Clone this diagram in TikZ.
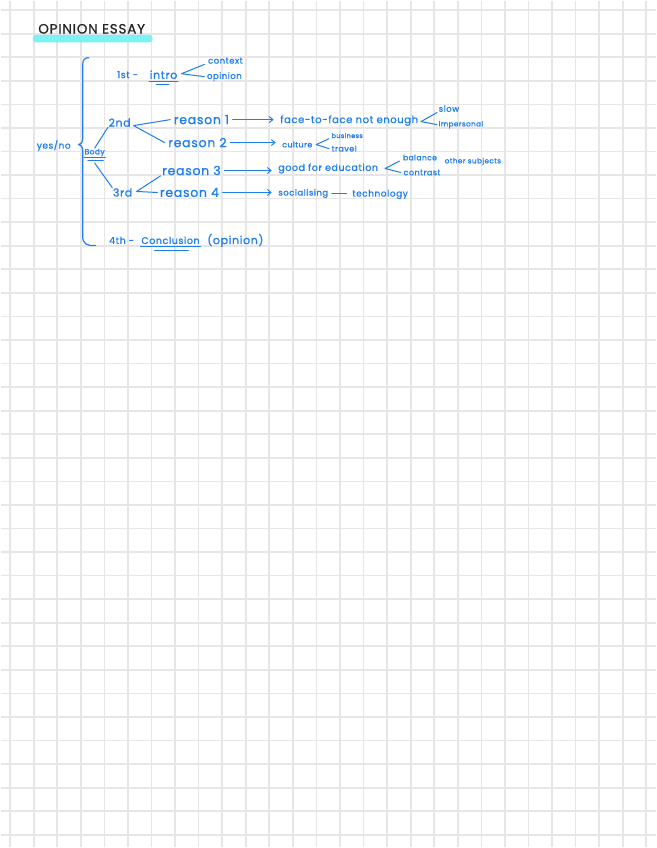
\documentclass[tikz,border=0pt]{standalone}
\usepackage{fontspec}
\setmainfont{Poppins}
\newfontfamily\hand[LetterSpace=6,FakeBold=1]{Poppins}
\usetikzlibrary{arrows.meta,positioning,calc}
\definecolor{ink}{HTML}{1E7DF0}
\definecolor{gridline}{HTML}{E6E6E6}
\definecolor{marker}{HTML}{7DF2F2}

\begin{document}
\begin{tikzpicture}[
  x=1pt, y=-1pt,
  big/.style={text=ink, inner sep=0.5pt, font=\hand\fontsize{12.5}{13}\selectfont},
  mid/.style={text=ink, inner sep=0.5pt, font=\hand\fontsize{9.5}{10}\selectfont},
  sml/.style={text=ink, inner sep=0.5pt, font=\hand\fontsize{8.5}{9}\selectfont},
  tiny/.style={text=ink, inner sep=0.5pt, font=\hand\fontsize{7.2}{8}\selectfont},
  edge/.style={draw=ink, line width=1pt, line cap=round, line join=round},
  arr/.style={edge, -{Straight Barb[length=3.5pt,width=6pt]}, shorten <=3pt, shorten >=6pt}
]
\fill[white] (0,0) rectangle (656,848);
\foreach \k in {0,...,27}
  \draw[gridline, line width=1.7pt] ({9.3+23.61*\k},0) -- ({9.3+23.61*\k},848);
\foreach \k in {0,...,35}
  \draw[gridline, line width=1.7pt] (0,{9.3+23.61*\k}) -- (656,{9.3+23.61*\k});
\useasboundingbox (0,0) rectangle (656,848);

\fill[marker, rounded corners=3pt] (32,34) rectangle (152,41.5);
\node[text=black!85, inner sep=0pt, font=\hand\fontsize{13.5}{14}\selectfont] (title) at (91,28) {OPINION ESSAY};

\draw[edge, line width=1.2pt] (88,57) .. controls (84,57) and (82,59) .. (82,64) -- (82,138)
  .. controls (82,142) and (80,144) .. (78,144) .. controls (80,144) and (82,146) .. (82,150)
  -- (82,236) .. controls (82,243) and (86,246) .. (95,245);

\node[mid, font=\hand\fontsize{9}{10}\selectfont] (yesno) at (53,145) {yes/no};

\node[mid] (first) at (127,74) {1st -};
\node[mid, font=\hand\fontsize{11}{12}\selectfont] (intro) at (163,74) {intro};
\draw[edge] ([yshift=-1.5pt]intro.south west) -- ([yshift=-1.5pt]intro.south east);
\draw[edge] ([xshift=7pt,yshift=-4.5pt]intro.south west) -- ([xshift=-9pt,yshift=-4.5pt]intro.south east);
\node[sml] (context) at (225,60) {context};
\node[sml] (opinion) at (224,76) {opinion};
\coordinate (introfork) at (181,73);
\draw[edge] ([xshift=-3pt]context.south west) -- (introfork) -- ([xshift=-2pt]opinion.west);

\node[mid, font=\hand\fontsize{7.5}{8}\selectfont] (body) at (94,152) {Body};
\draw[edge] ([yshift=-1pt]body.south west) -- ([yshift=-1pt]body.south east);
\draw[edge] ([xshift=4pt,yshift=-4pt]body.south west) -- ([xshift=-2pt,yshift=-4pt]body.south east);

\node[big, font=\hand\fontsize{11}{12}\selectfont] (second) at (119,122) {2nd};
\node[big, font=\hand\fontsize{11}{12}\selectfont] (third) at (122,192) {3rd};
\draw[edge] (body.north) -- (second.south west);
\draw[edge] ([yshift=-6pt]body.south) -- (third.north west);

\node[big] (rone) at (201,119) {reason 1};
\node[big] (rtwo) at (197,142) {reason 2};
\node[big] (rthree) at (191,170) {reason 3};
\node[big] (rfour) at (189,192) {reason 4};
\coordinate (twofork) at (133,125);
\coordinate (threefork) at (136,191);
\draw[edge] ([xshift=-3pt]rone.west) -- (twofork) -- ([xshift=-3pt]rtwo.west);
\draw[edge] ([xshift=-1pt]rthree.south west) -- (threefork) -- ([xshift=-2pt]rfour.west);

\node[mid, font=\hand\fontsize{10}{11}\selectfont] (face) at (349,120) {face-to-face not enough};
\node[sml, font=\hand\fontsize{7.8}{8}\selectfont] (culture) at (297,144) {culture};
\node[mid] (educ) at (328,168) {good for education};
\node[sml] (social) at (303,193) {socialising};
\node[mid, font=\hand\fontsize{9}{10}\selectfont] (techno) at (380,194) {technology};
\draw[arr] (rone.east) -- (rone.east -| face.west);
\draw[arr] (rtwo.east) -- (rtwo.east -| culture.west);
\draw[arr] (rthree.east) -- (rthree.east -| educ.west);
\draw[arr] (rfour.east) -- (rfour.east -| social.west);
\draw[edge, shorten <=3pt, shorten >=5pt] (social.east) -- (social.east -| techno.west);

\node[tiny, font=\hand\fontsize{8.5}{9}\selectfont] (slow) at (449,108) {slow};
\node[tiny] (imper) at (461,124) {impersonal};
\coordinate (facefork) at (421,121);
\draw[edge] ([xshift=-1pt]slow.south west) -- (facefork) -- ([xshift=-1pt]imper.west);

\node[tiny, font=\hand\fontsize{6.5}{7}\selectfont] (business) at (347,135) {business};
\node[tiny, font=\hand\fontsize{8}{9}\selectfont] (travel) at (344,148) {travel};
\coordinate (culturefork) at (316,144);
\draw[edge] ([xshift=-2pt]business.south west) -- (culturefork) -- ([xshift=-2pt]travel.west);

\node[tiny, font=\hand\fontsize{7.5}{8}\selectfont] (balance) at (420,157) {balance};
\node[tiny, font=\hand\fontsize{8}{9}\selectfont] (contrast) at (422,172) {contrast};
\node[tiny] (subjects) at (473,161) {other subjects};
\coordinate (educfork) at (385,168);
\draw[edge] ([xshift=-3pt]balance.south west) -- (educfork) -- ([xshift=-2pt]contrast.west);

\node[mid] (fourth) at (121,240) {4th -};
\node[mid] (concl) at (170,240) {Conclusion};
\node[mid, font=\hand\fontsize{11}{12}\selectfont] (concop) at (235,240) {(opinion)};
\draw[edge] ([yshift=-1.5pt]concl.south west) -- ([yshift=-1.5pt]concl.south east);
\draw[edge] ([xshift=14pt,yshift=-6pt]concl.south west) -- ([xshift=-12pt,yshift=-6pt]concl.south east);
\end{tikzpicture}
\end{document}
